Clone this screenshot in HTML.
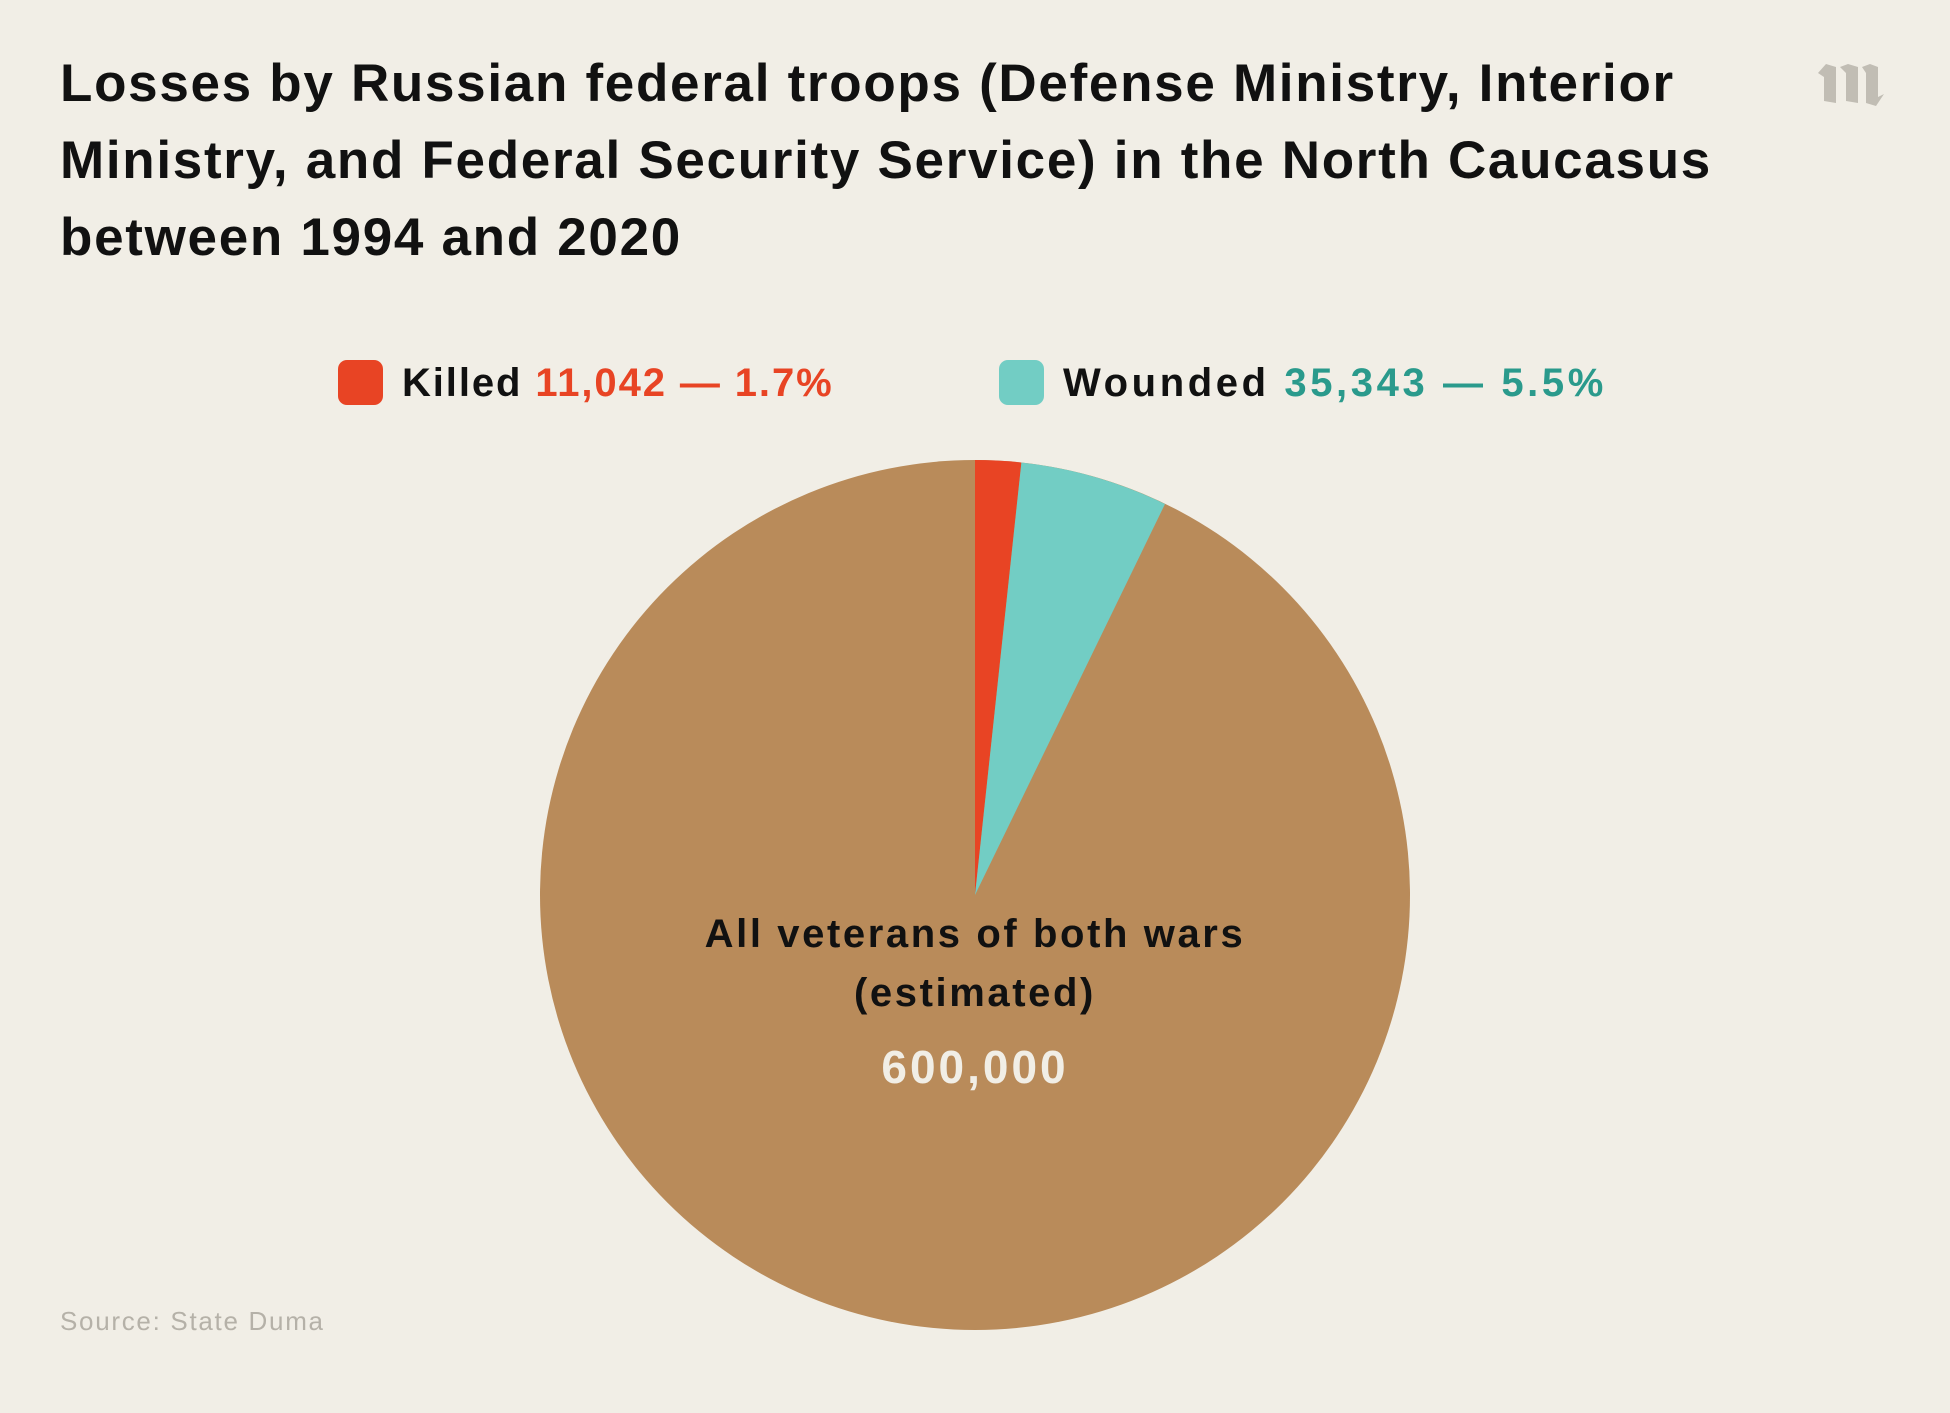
<!DOCTYPE html>
<html><head><meta charset="utf-8"><style>
body{margin:0;width:1950px;height:1413px;background:#f1eee6;font-family:"Liberation Sans",sans-serif;position:relative;overflow:hidden}
.t{position:absolute;left:60px;top:45px;font-size:53px;font-weight:bold;line-height:77px;color:#111;letter-spacing:1.7px;white-space:nowrap}
.lg{position:absolute;top:359px;font-size:40px;font-weight:bold;line-height:48px;color:#111;white-space:nowrap;letter-spacing:1.9px}
.sq{position:absolute;top:360px;width:45px;height:45px;border-radius:9px}
.c{position:absolute;left:0;width:1950px;text-align:center;font-size:40px;font-weight:bold;color:#111;letter-spacing:2.6px}
</style></head><body>
<div class="t">Losses by Russian federal troops (Defense Ministry, Interior<br>Ministry, and Federal Security Service) in the North Caucasus<br>between 1994 and 2020</div>
<svg style="position:absolute;left:1818px;top:63px" width="70" height="44" viewBox="0 0 70 44"><g fill="#c1bdb4"><polygon points="0,10 8,1 18,4 18,40 6,38 6,14"/><polygon points="22,4 30,1 40,4 40,40 28,38 28,10"/><polygon points="44,4 52,1 60,4 60,34 66,31 58,43 48,40 48,10"/></g></svg>
<div class="sq" style="left:338px;background:#e84424"></div>
<div class="lg" style="left:402px">Killed <span style="color:#e84424">11,042 — 1.7%</span></div>
<div class="sq" style="left:999px;background:#72cdc4"></div>
<div class="lg" style="left:1063px;letter-spacing:3.6px">Wounded <span style="color:#2a9a8c">35,343 — 5.5%</span></div>
<svg style="position:absolute;left:0;top:0" width="1950" height="1413">
<circle cx="975" cy="895" r="435" fill="#b98b5a"/>
<path d="M975,895 L975,460 A435,435 0 0 1 1021.4,462.5 Z" fill="#e84424"/>
<path d="M975,895 L1021.4,462.5 A435,435 0 0 1 1165,504 Z" fill="#72cdc4"/>
</svg>
<div class="c" style="top:905px;line-height:59px">All veterans of both wars<br>(estimated)</div>
<div class="c" style="top:1040px;color:#f1eee6;line-height:54px;font-size:46px;letter-spacing:3px">600,000</div>
<div style="position:absolute;left:60px;top:1306px;font-size:26px;color:#b5b1a8;letter-spacing:1.7px">Source: State Duma</div>
</body></html>
